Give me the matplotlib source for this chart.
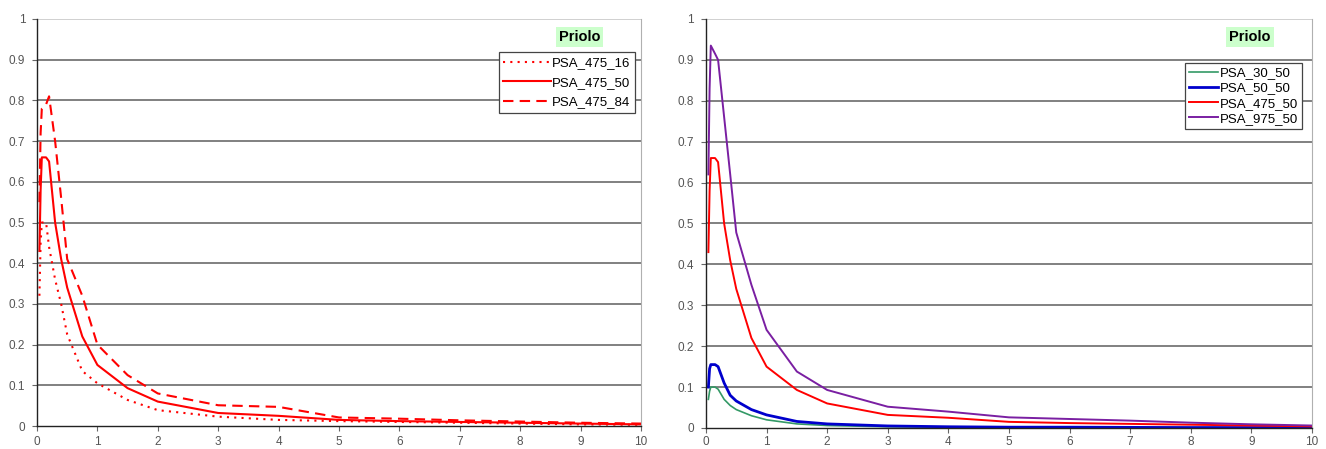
import matplotlib
matplotlib.use("Agg")
import matplotlib.pyplot as plt

plt.rcParams['font.family'] = ['Liberation Sans', 'DejaVu Sans']

# periods (s)
periods = [0.04, 0.06, 0.08, 0.15, 0.2, 0.3, 0.4, 0.5, 0.75, 1.0, 1.5, 2.0,
           3.0, 4.0, 5.0, 6.0, 7.0, 8.0, 9.0, 10.0]

# left chart: 475-year return period, percentiles
psa_475_16 = [0.32, 0.45, 0.50, 0.50, 0.44, 0.36, 0.30, 0.225, 0.135, 0.105, 0.064, 0.039,
              0.023, 0.015, 0.012, 0.010, 0.008, 0.006, 0.004, 0.003]
psa_475_50 = [0.43, 0.58, 0.66, 0.66, 0.65, 0.50, 0.41, 0.34, 0.22, 0.15, 0.093, 0.06,
              0.032, 0.025, 0.015, 0.012, 0.010, 0.008, 0.006, 0.004]
psa_475_84 = [0.55, 0.72, 0.78, 0.79, 0.81, 0.70, 0.56, 0.41, 0.32, 0.20, 0.125, 0.08,
              0.051, 0.047, 0.021, 0.018, 0.014, 0.011, 0.008, 0.006]

# right chart: median for various return periods
psa_30_50 = [0.07, 0.09, 0.10, 0.10, 0.095, 0.07, 0.055, 0.045, 0.03, 0.02, 0.01, 0.006,
             0.003, 0.002, 0.0015, 0.001, 0.001, 0.001, 0.001, 0.001]
psa_50_50 = [0.10, 0.145, 0.155, 0.155, 0.15, 0.11, 0.08, 0.066, 0.045, 0.032, 0.016, 0.01,
             0.005, 0.003, 0.002, 0.002, 0.0015, 0.001, 0.001, 0.001]
psa_975_50 = [0.62, 0.83, 0.935, 0.915, 0.90, 0.76, 0.62, 0.478, 0.35, 0.24, 0.138, 0.093,
              0.052, 0.04, 0.026, 0.022, 0.018, 0.013, 0.009, 0.006]

x_ticks = list(range(0, 11))
y_ticks = [0, 0.1, 0.2, 0.3, 0.4, 0.5, 0.6, 0.7, 0.8, 0.9, 1]
y_labels = ['0', '0.1', '0.2', '0.3', '0.4', '0.5', '0.6', '0.7', '0.8', '0.9', '1']

fig = plt.figure(figsize=(13.26, 4.49), dpi=100)
ax1 = fig.add_axes([0.0279, 0.0512, 0.4555, 0.9065])
ax2 = fig.add_axes([0.5324, 0.0468, 0.4570, 0.9109])


def style_axes(ax, xpad):
    ax.set_xlim(0, 10)
    ax.set_ylim(0, 1)
    ax.set_xticks(x_ticks)
    ax.set_xticklabels([str(t) for t in x_ticks])
    ax.set_yticks(y_ticks)
    ax.set_yticklabels(y_labels)
    ax.tick_params(labelsize=8.5, labelcolor='#555555', length=3.5, width=0.8,
                   direction='out', color='#666666')
    ax.tick_params(axis='x', pad=xpad)
    ax.tick_params(axis='y', pad=5)
    for y in y_ticks[1:-1]:
        ax.axhline(y, color='#808080', lw=1.4, zorder=0)
    ax.axhline(1, color='#c8c8c8', lw=1.2, zorder=0)
    ax.spines['top'].set_visible(False)
    ax.spines['right'].set_color('#b0b0b0')
    ax.spines['left'].set_color('#222222')
    ax.spines['bottom'].set_color('#222222')
    ax.spines['left'].set_linewidth(1.0)
    ax.spines['bottom'].set_linewidth(1.0)
    ax.text(0.898, 0.955, 'Priolo', transform=ax.transAxes, ha='center', va='center',
            fontsize=10.5, fontweight='bold',
            bbox=dict(facecolor='#ccffcc', edgecolor='none', boxstyle='square,pad=0.2'))


style_axes(ax1, 4)
ax1.plot(periods, psa_475_16, color='red', lw=1.5, linestyle=(0, (1, 2.5)), label='PSA_475_16')
ax1.plot(periods, psa_475_50, color='red', lw=1.5, label='PSA_475_50')
ax1.plot(periods, psa_475_84, color='red', lw=1.5, linestyle=(0, (5, 3)), label='PSA_475_84')
leg1 = ax1.legend(loc='upper right', bbox_to_anchor=(0.99, 0.918), fontsize=9.5,
                  fancybox=False, framealpha=1, edgecolor='#444444', handlelength=3.6,
                  handletextpad=0.1, borderpad=0.35, labelspacing=0.55, borderaxespad=0)
leg1.get_frame().set_linewidth(0.9)

style_axes(ax2, 2)
ax2.plot(periods, psa_30_50, color='#339966', lw=1.2, label='PSA_30_50')
ax2.plot(periods, psa_50_50, color='#0000cc', lw=2.0, label='PSA_50_50')
ax2.plot(periods, psa_475_50, color='#ff0000', lw=1.4, label='PSA_475_50')
ax2.plot(periods, psa_975_50, color='#7a1fa2', lw=1.4, label='PSA_975_50')
leg2 = ax2.legend(loc='upper right', bbox_to_anchor=(0.983, 0.892), fontsize=9.5,
                  fancybox=False, framealpha=1, edgecolor='#444444', handlelength=2.2,
                  handletextpad=0.1, borderpad=0.3, labelspacing=0.22, borderaxespad=0)
leg2.get_frame().set_linewidth(0.9)

plt.savefig('out.png', dpi=100)
plt.close()
